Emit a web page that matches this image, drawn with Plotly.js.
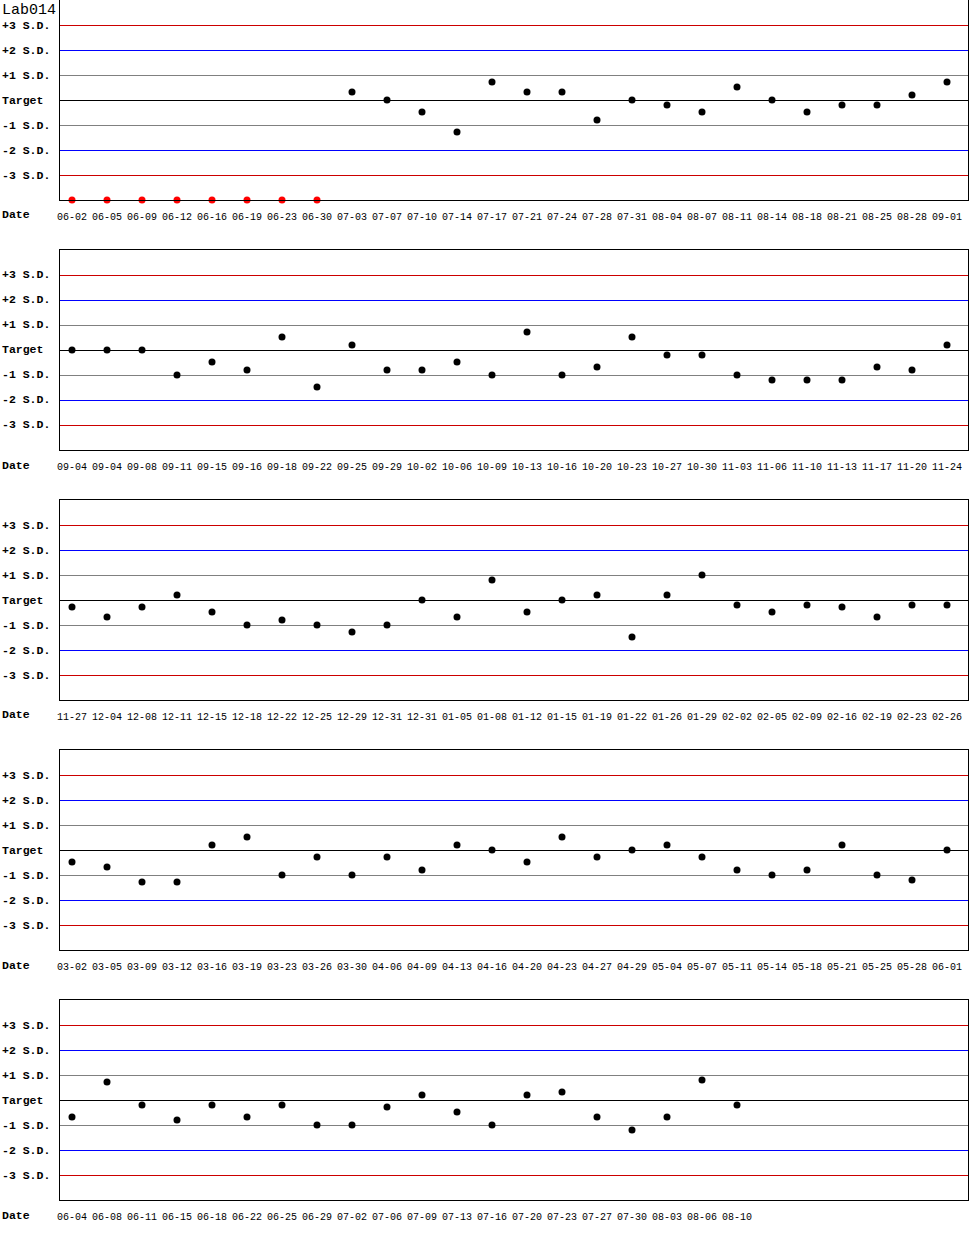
<!DOCTYPE html>
<html>
<head>
<meta charset="utf-8">
<script src="https://cdn.plot.ly/plotly-3.0.1.min.js"></script>
<style>
body { margin: 0; background: #fff; }
#chart { width: 970px; height: 1250px; }
.shapelayer path { shape-rendering: crispEdges; }
</style>
</head>
<body>
<div id="chart"></div>
<script>
'use strict';

// values are in S.D. units from target; -4 means off the bottom of the chart
const title = 'Lab014';

const dates1 = ['06-02', '06-05', '06-09', '06-12', '06-16', '06-19', '06-23', '06-30', '07-03', '07-07', '07-10', '07-14', '07-17',
	'07-21', '07-24', '07-28', '07-31', '08-04', '08-07', '08-11', '08-14', '08-18', '08-21', '08-25', '08-28', '09-01'];
const values1 = [-4, -4, -4, -4, -4, -4, -4, -4, 0.32, 0, -0.48, -1.28, 0.72,
	0.32, 0.32, -0.8, 0, -0.2, -0.48, 0.52, 0, -0.48, -0.2, -0.2, 0.2, 0.72];

const dates2 = ['09-04', '09-04', '09-08', '09-11', '09-15', '09-16', '09-18', '09-22', '09-25', '09-29', '10-02', '10-06', '10-09',
	'10-13', '10-16', '10-20', '10-23', '10-27', '10-30', '11-03', '11-06', '11-10', '11-13', '11-17', '11-20', '11-24'];
const values2 = [0, 0, 0, -1, -0.48, -0.8, 0.52, -1.48, 0.2, -0.8, -0.8, -0.48, -1,
	0.72, -1, -0.68, 0.52, -0.2, -0.2, -1, -1.2, -1.2, -1.2, -0.68, -0.8, 0.2];

const dates3 = ['11-27', '12-04', '12-08', '12-11', '12-15', '12-18', '12-22', '12-25', '12-29', '12-31', '12-31', '01-05', '01-08',
	'01-12', '01-15', '01-19', '01-22', '01-26', '01-29', '02-02', '02-05', '02-09', '02-16', '02-19', '02-23', '02-26'];
const values3 = [-0.28, -0.68, -0.28, 0.2, -0.48, -1, -0.8, -1, -1.28, -1, 0, -0.68, 0.8,
	-0.48, 0, 0.2, -1.48, 0.2, 1, -0.2, -0.48, -0.2, -0.28, -0.68, -0.2, -0.2];

const dates4 = ['03-02', '03-05', '03-09', '03-12', '03-16', '03-19', '03-23', '03-26', '03-30', '04-06', '04-09', '04-13', '04-16',
	'04-20', '04-23', '04-27', '04-29', '05-04', '05-07', '05-11', '05-14', '05-18', '05-21', '05-25', '05-28', '06-01'];
const values4 = [-0.48, -0.68, -1.28, -1.28, 0.2, 0.52, -1, -0.28, -1, -0.28, -0.8, 0.2, 0,
	-0.48, 0.52, -0.28, 0, 0.2, -0.28, -0.8, -1, -0.8, 0.2, -1, -1.2, 0];

const dates5 = ['06-04', '06-08', '06-11', '06-15', '06-18', '06-22', '06-25', '06-29', '07-02', '07-06', '07-09', '07-13', '07-16',
	'07-20', '07-23', '07-27', '07-30', '08-03', '08-06', '08-10'];
const values5 = [-0.68, 0.72, -0.2, -0.8, -0.2, -0.68, -0.2, -1, -1, -0.28, 0.2, -0.48, -1,
	0.2, 0.32, -0.68, -1.2, -0.68, 0.8, -0.2];

const levels = [3, 2, 1, 0, -1, -2, -3];
const levelLabels = ['+3 S.D.', '+2 S.D.', '+1 S.D.', 'Target', '-1 S.D.', '-2 S.D.', '-3 S.D.'];
const levelColors = ['#cc0000', '#0000ff', '#808080', '#000000', '#808080', '#0000ff', '#cc0000'];

const panels = [[dates1, values1], [dates2, values2], [dates3, values3], [dates4, values4], [dates5, values5]];

const W = 970, H = 1250, ml = 60, mr = 2;
const plotW = W - ml - mr;
const panelH = 250, boxH = 200, dateY = 215, step = 35, firstX = 12;
const mono = 'Liberation Mono, DejaVu Sans Mono, monospace';
const labelX = -ml / plotW;
const labelFont = {family: mono, size: 11.5, weight: 'bold', color: '#000000'};

const data = [], shapes = [], annotations = [];
const layout = {
	width: W,
	height: H,
	margin: {l: ml, r: mr, t: 0, b: 0},
	paper_bgcolor: '#ffffff',
	plot_bgcolor: '#ffffff',
	showlegend: false,
	hovermode: false
};

panels.forEach(function(p, k) {
	const n = k + 1;
	const dates = p[0], vals = p[1];
	const idx = dates.map(function(d, i) { return i; });

	data.push({
		x: idx,
		y: vals,
		xaxis: 'x' + n,
		yaxis: 'y' + n,
		type: 'scatter',
		mode: 'markers',
		cliponaxis: false,
		marker: {
			size: 7,
			color: vals.map(function(v) { return v <= -4 ? '#ff0000' : '#000000'; })
		}
	});

	const top = 1 - (panelH * k) / H;
	const bottom = 1 - (panelH * k + boxH) / H;

	layout['xaxis' + n] = {
		anchor: 'y' + n,
		domain: [0, 1],
		range: [-firstX / step, (plotW - firstX) / step],
		tickmode: 'array',
		tickvals: idx,
		ticktext: dates,
		ticks: '',
		ticklabelstandoff: 7,
		tickfont: {family: mono, size: 10, color: '#000000'},
		showgrid: false,
		zeroline: false,
		showline: true,
		mirror: true,
		linecolor: '#000000',
		linewidth: 1,
		fixedrange: true
	};
	layout['yaxis' + n] = {
		anchor: 'x' + n,
		domain: [bottom, top],
		range: [-4, 4],
		showticklabels: false,
		ticks: '',
		showgrid: false,
		zeroline: false,
		showline: true,
		mirror: true,
		linecolor: '#000000',
		linewidth: 1,
		fixedrange: true
	};

	levels.forEach(function(lv, i) {
		shapes.push({
			type: 'line',
			xref: 'x' + n + ' domain',
			yref: 'y' + n,
			x0: 0, x1: 1,
			y0: lv, y1: lv,
			layer: 'below',
			line: {color: levelColors[i], width: 1}
		});
		annotations.push({
			xref: 'paper',
			yref: 'y' + n,
			x: labelX,
			y: lv,
			xanchor: 'left',
			yanchor: 'middle',
			showarrow: false,
			text: levelLabels[i],
			font: labelFont
		});
	});

	annotations.push({
		xref: 'paper',
		yref: 'paper',
		x: labelX,
		y: 1 - (panelH * k + dateY) / H,
		xanchor: 'left',
		yanchor: 'middle',
		showarrow: false,
		text: 'Date',
		font: labelFont
	});
});

annotations.push({
	xref: 'paper',
	yref: 'paper',
	x: labelX,
	y: 1,
	xanchor: 'left',
	yanchor: 'top',
	showarrow: false,
	text: title,
	font: {family: mono, size: 15, color: '#000000'}
});

layout.shapes = shapes;
layout.annotations = annotations;

Plotly.newPlot('chart', data, layout, {displayModeBar: false, staticPlot: true});
</script>
</body>
</html>
